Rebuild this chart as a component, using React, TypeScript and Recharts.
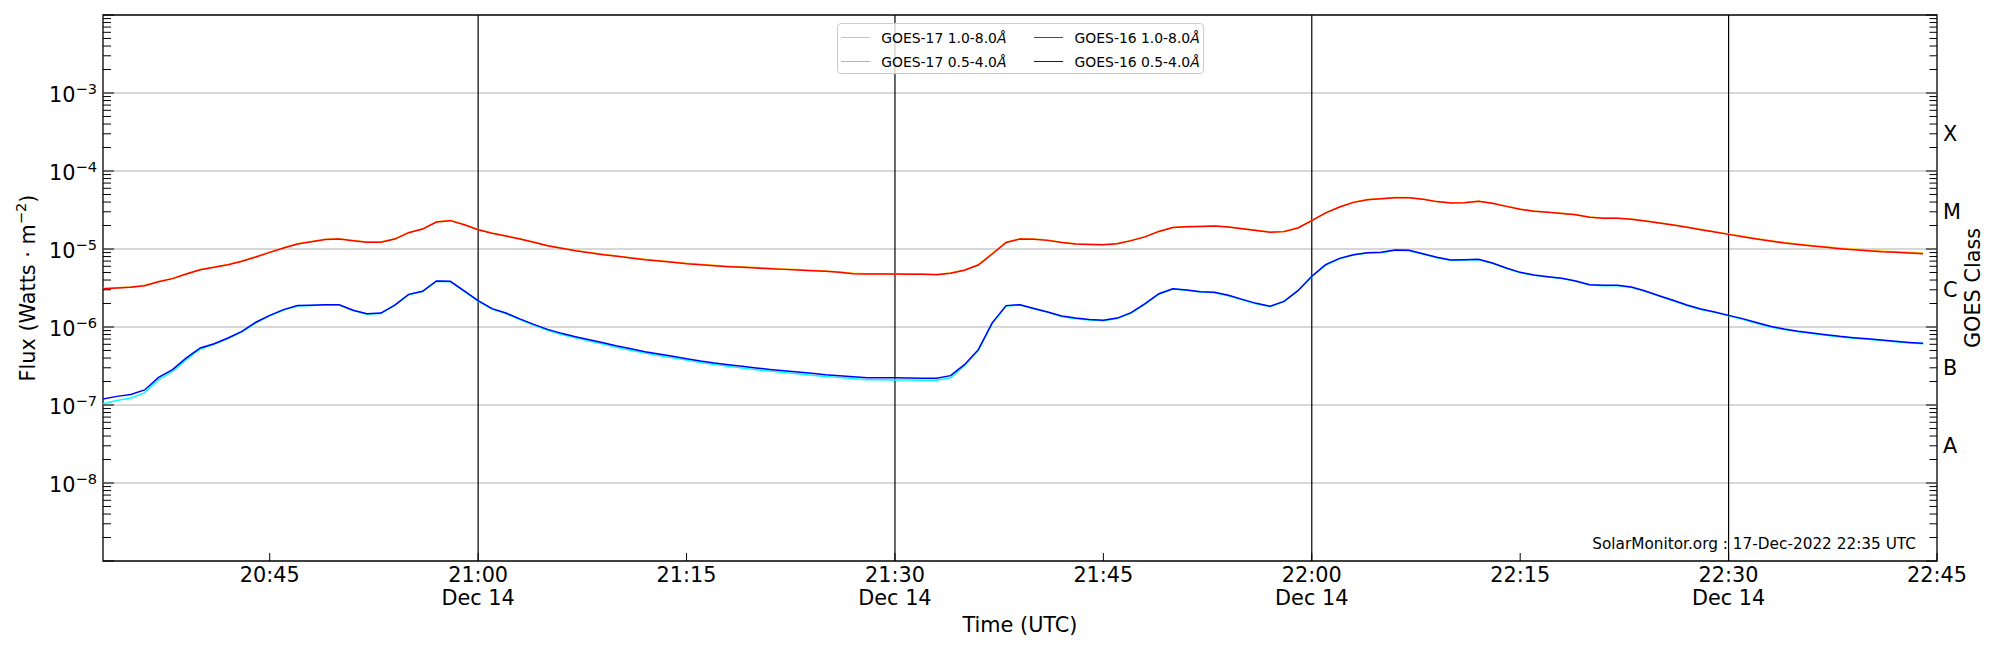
import React from 'react';
import { LineChart, Line, XAxis, YAxis, ReferenceLine, ReferenceArea, Legend } from 'recharts';

const FONT = '"DejaVu Sans", Verdana, sans-serif';

// time axis: minutes since 00:00 UTC, 1-minute cadence from 20:33
const START_MINUTE = 20 * 60 + 33;
const CADENCE_MIN = 1;
const X_DOMAIN = [20 * 60 + 33, 22 * 60 + 45];
const X_TICK_MINUTES = [1245, 1260, 1275, 1290, 1305, 1320, 1335, 1350, 1365];
const X_TICK_LABELS = ['20:45', '21:00', '21:15', '21:30', '21:45', '22:00', '22:15', '22:30', '22:45'];
const X_TICK_DATES = ['', 'Dec 14', '', 'Dec 14', '', 'Dec 14', '', 'Dec 14', ''];
const DAY_LINES = [1260, 1290, 1320, 1350];

const Y_DOMAIN = [1e-9, 1e-2];
const Y_TICK_EXPONENTS = [-8, -7, -6, -5, -4, -3];
const GRID_FLUX = [1e-8, 1e-7, 1e-6, 1e-5, 1e-4, 1e-3];
const CLASS_LABELS = ['A', 'B', 'C', 'M', 'X'];
const CLASS_FLUX = [3.1623e-8, 3.1623e-7, 3.1623e-6, 3.1623e-5, 3.1623e-4];

const GOES17_LONG = [
  3.12e-6, 3.18e-6, 3.25e-6, 3.42e-6, 3.84e-6, 4.20e-6, 4.82e-6, 5.47e-6, 5.86e-6, 6.35e-6,
  7.00e-6, 7.95e-6, 9.12e-6, 1.04e-5, 1.17e-5, 1.25e-5, 1.33e-5, 1.35e-5, 1.29e-5, 1.23e-5,
  1.23e-5, 1.35e-5, 1.63e-5, 1.81e-5, 2.24e-5, 2.33e-5, 2.07e-5, 1.78e-5, 1.60e-5, 1.48e-5,
  1.35e-5, 1.23e-5, 1.11e-5, 1.03e-5, 9.60e-6, 9.05e-6, 8.54e-6, 8.13e-6, 7.75e-6, 7.38e-6,
  7.10e-6, 6.83e-6, 6.57e-6, 6.38e-6, 6.19e-6, 6.02e-6, 5.90e-6, 5.78e-6, 5.68e-6, 5.56e-6,
  5.45e-6, 5.34e-6, 5.24e-6, 5.09e-6, 4.89e-6, 4.83e-6, 4.83e-6, 4.83e-6, 4.78e-6, 4.78e-6,
  4.73e-6, 4.93e-6, 5.38e-6, 6.29e-6, 8.71e-6, 1.22e-5, 1.35e-5, 1.34e-5, 1.30e-5, 1.22e-5,
  1.17e-5, 1.15e-5, 1.14e-5, 1.18e-5, 1.29e-5, 1.44e-5, 1.69e-5, 1.89e-5, 1.94e-5, 1.96e-5,
  1.98e-5, 1.92e-5, 1.83e-5, 1.74e-5, 1.65e-5, 1.68e-5, 1.87e-5, 2.32e-5, 2.91e-5, 3.47e-5,
  3.98e-5, 4.31e-5, 4.44e-5, 4.57e-5, 4.57e-5, 4.36e-5, 4.07e-5, 3.91e-5, 3.95e-5, 4.10e-5,
  3.87e-5, 3.54e-5, 3.25e-5, 3.06e-5, 2.97e-5, 2.88e-5, 2.77e-5, 2.57e-5, 2.49e-5, 2.49e-5,
  2.42e-5, 2.31e-5, 2.17e-5, 2.05e-5, 1.92e-5, 1.79e-5, 1.67e-5, 1.56e-5, 1.46e-5, 1.36e-5,
  1.29e-5, 1.21e-5, 1.16e-5, 1.11e-5, 1.07e-5, 1.03e-5, 9.98e-6, 9.70e-6, 9.42e-6, 9.24e-6,
  9.07e-6, 8.89e-6,
];

const GOES17_SHORT = [
  1.04e-7, 1.14e-7, 1.23e-7, 1.43e-7, 2.11e-7, 2.70e-7, 3.81e-7, 5.22e-7, 6.00e-7, 7.10e-7,
  8.65e-7, 1.13e-6, 1.39e-6, 1.65e-6, 1.86e-6, 1.88e-6, 1.91e-6, 1.91e-6, 1.62e-6, 1.46e-6,
  1.49e-6, 1.89e-6, 2.59e-6, 2.84e-6, 3.85e-6, 3.81e-6, 2.87e-6, 2.15e-6, 1.70e-6, 1.49e-6,
  1.25e-6, 1.06e-6, 9.10e-7, 8.00e-7, 7.25e-7, 6.62e-7, 6.05e-7, 5.47e-7, 5.05e-7, 4.63e-7,
  4.32e-7, 4.03e-7, 3.76e-7, 3.50e-7, 3.30e-7, 3.14e-7, 2.98e-7, 2.84e-7, 2.72e-7, 2.61e-7,
  2.51e-7, 2.41e-7, 2.32e-7, 2.25e-7, 2.18e-7, 2.11e-7, 2.11e-7, 2.09e-7, 2.09e-7, 2.07e-7,
  2.07e-7, 2.24e-7, 3.19e-7, 4.97e-7, 1.11e-6, 1.86e-6, 1.91e-6, 1.71e-6, 1.54e-6, 1.36e-6,
  1.28e-6, 1.23e-6, 1.20e-6, 1.28e-6, 1.51e-6, 1.97e-6, 2.64e-6, 3.07e-6, 2.95e-6, 2.81e-6,
  2.75e-6, 2.52e-6, 2.23e-6, 1.99e-6, 1.82e-6, 2.11e-6, 2.89e-6, 4.42e-6, 6.24e-6, 7.51e-6,
  8.38e-6, 8.88e-6, 8.97e-6, 9.61e-6, 9.51e-6, 8.62e-6, 7.74e-6, 7.16e-6, 7.23e-6, 7.30e-6,
  6.55e-6, 5.64e-6, 4.97e-6, 4.59e-6, 4.38e-6, 4.17e-6, 3.85e-6, 3.45e-6, 3.38e-6, 3.38e-6,
  3.22e-6, 2.87e-6, 2.49e-6, 2.17e-6, 1.89e-6, 1.68e-6, 1.54e-6, 1.39e-6, 1.26e-6, 1.12e-6,
  1.00e-6, 9.28e-7, 8.67e-7, 8.25e-7, 7.85e-7, 7.47e-7, 7.18e-7, 6.97e-7, 6.70e-7, 6.45e-7,
  6.25e-7, 6.08e-7,
];

const GOES16_LONG = [
  3.10e-6, 3.16e-6, 3.23e-6, 3.39e-6, 3.81e-6, 4.17e-6, 4.78e-6, 5.43e-6, 5.82e-6, 6.30e-6,
  6.95e-6, 7.89e-6, 9.06e-6, 1.03e-5, 1.16e-5, 1.24e-5, 1.32e-5, 1.34e-5, 1.28e-5, 1.22e-5,
  1.22e-5, 1.34e-5, 1.62e-5, 1.80e-5, 2.22e-5, 2.31e-5, 2.05e-5, 1.77e-5, 1.59e-5, 1.47e-5,
  1.34e-5, 1.22e-5, 1.10e-5, 1.02e-5, 9.52e-6, 8.97e-6, 8.46e-6, 8.05e-6, 7.67e-6, 7.30e-6,
  7.02e-6, 6.75e-6, 6.49e-6, 6.30e-6, 6.11e-6, 5.94e-6, 5.82e-6, 5.70e-6, 5.60e-6, 5.48e-6,
  5.38e-6, 5.27e-6, 5.17e-6, 5.02e-6, 4.83e-6, 4.78e-6, 4.78e-6, 4.78e-6, 4.73e-6, 4.73e-6,
  4.68e-6, 4.88e-6, 5.33e-6, 6.23e-6, 8.63e-6, 1.21e-5, 1.34e-5, 1.33e-5, 1.29e-5, 1.21e-5,
  1.16e-5, 1.14e-5, 1.13e-5, 1.17e-5, 1.28e-5, 1.43e-5, 1.68e-5, 1.88e-5, 1.93e-5, 1.95e-5,
  1.97e-5, 1.91e-5, 1.82e-5, 1.73e-5, 1.64e-5, 1.67e-5, 1.86e-5, 2.31e-5, 2.90e-5, 3.45e-5,
  3.96e-5, 4.29e-5, 4.42e-5, 4.55e-5, 4.55e-5, 4.34e-5, 4.05e-5, 3.89e-5, 3.93e-5, 4.08e-5,
  3.85e-5, 3.52e-5, 3.23e-5, 3.04e-5, 2.95e-5, 2.86e-5, 2.75e-5, 2.55e-5, 2.47e-5, 2.47e-5,
  2.40e-5, 2.29e-5, 2.15e-5, 2.03e-5, 1.90e-5, 1.77e-5, 1.65e-5, 1.54e-5, 1.44e-5, 1.34e-5,
  1.27e-5, 1.19e-5, 1.14e-5, 1.09e-5, 1.05e-5, 1.01e-5, 9.80e-6, 9.52e-6, 9.24e-6, 9.06e-6,
  8.89e-6, 8.71e-6,
];

const GOES16_SHORT = [
  1.19e-7, 1.29e-7, 1.36e-7, 1.56e-7, 2.26e-7, 2.84e-7, 4.01e-7, 5.38e-7, 6.11e-7, 7.23e-7,
  8.80e-7, 1.15e-6, 1.41e-6, 1.67e-6, 1.88e-6, 1.90e-6, 1.93e-6, 1.93e-6, 1.64e-6, 1.48e-6,
  1.51e-6, 1.91e-6, 2.62e-6, 2.87e-6, 3.89e-6, 3.85e-6, 2.90e-6, 2.18e-6, 1.72e-6, 1.51e-6,
  1.27e-6, 1.08e-6, 9.33e-7, 8.29e-7, 7.52e-7, 6.88e-7, 6.30e-7, 5.70e-7, 5.27e-7, 4.83e-7,
  4.51e-7, 4.21e-7, 3.93e-7, 3.66e-7, 3.45e-7, 3.29e-7, 3.13e-7, 2.98e-7, 2.86e-7, 2.75e-7,
  2.65e-7, 2.55e-7, 2.45e-7, 2.38e-7, 2.31e-7, 2.24e-7, 2.24e-7, 2.24e-7, 2.22e-7, 2.20e-7,
  2.20e-7, 2.38e-7, 3.29e-7, 5.12e-7, 1.13e-6, 1.88e-6, 1.93e-6, 1.73e-6, 1.56e-6, 1.38e-6,
  1.30e-6, 1.25e-6, 1.22e-6, 1.30e-6, 1.53e-6, 1.99e-6, 2.67e-6, 3.10e-6, 2.98e-6, 2.84e-6,
  2.78e-6, 2.55e-6, 2.26e-6, 2.01e-6, 1.84e-6, 2.13e-6, 2.92e-6, 4.47e-6, 6.30e-6, 7.59e-6,
  8.46e-6, 8.97e-6, 9.06e-6, 9.71e-6, 9.61e-6, 8.71e-6, 7.82e-6, 7.23e-6, 7.30e-6, 7.38e-6,
  6.62e-6, 5.70e-6, 5.02e-6, 4.64e-6, 4.42e-6, 4.21e-6, 3.89e-6, 3.49e-6, 3.42e-6, 3.42e-6,
  3.26e-6, 2.90e-6, 2.52e-6, 2.20e-6, 1.91e-6, 1.70e-6, 1.56e-6, 1.41e-6, 1.28e-6, 1.14e-6,
  1.02e-6, 9.42e-7, 8.80e-7, 8.38e-7, 7.98e-7, 7.59e-7, 7.30e-7, 7.08e-7, 6.81e-7, 6.55e-7,
  6.35e-7, 6.18e-7,
];

const SERIES = [
  { key: 'g17l', name: 'GOES-17 1.0-8.0', color: '#ffd000' },
  { key: 'g17s', name: 'GOES-17 0.5-4.0', color: '#00ffff' },
  { key: 'g16l', name: 'GOES-16 1.0-8.0', color: '#ff0000' },
  { key: 'g16s', name: 'GOES-16 0.5-4.0', color: '#0000ff' },
];

const DATA = GOES16_LONG.map((_, i) => ({
  t: START_MINUTE + i * CADENCE_MIN,
  g17l: GOES17_LONG[i],
  g17s: GOES17_SHORT[i],
  g16l: GOES16_LONG[i],
  g16s: GOES16_SHORT[i],
}));

// log-axis tick positions (1..9 x 10^n)
const LOG_TICKS: number[] = [];
for (let e = -9; e <= -3; e++) {
  for (let k = 1; k <= 9; k++) LOG_TICKS.push(Number((k * Math.pow(10, e)).toPrecision(6)));
}
LOG_TICKS.push(1e-2);
const RIGHT_TICKS = [...LOG_TICKS, ...CLASS_FLUX].sort((a, b) => a - b);

const isDecade = (v: number) => {
  const lg = Math.log10(v);
  return Math.abs(lg - Math.round(lg)) < 1e-6;
};

function XTick(props: any) {
  const { x, y, payload } = props;
  const i = X_TICK_MINUTES.indexOf(payload.value);
  return (
    <g>
      <line x1={x} x2={x} y1={y} y2={y - 8} stroke="#000" strokeWidth={1} />
      <text x={x} y={y + 21.3} textAnchor="middle" fontSize={20.8} fontFamily={FONT} fill="#000">
        {X_TICK_LABELS[i]}
      </text>
      {X_TICK_DATES[i] ? (
        <text x={x} y={y + 44} textAnchor="middle" fontSize={20.8} fontFamily={FONT} fill="#000">
          {X_TICK_DATES[i]}
        </text>
      ) : null}
    </g>
  );
}

function LeftTick(props: any) {
  const { x, y, payload } = props;
  const v = payload.value;
  const dec = isDecade(v);
  const idx = dec ? Y_TICK_EXPONENTS.indexOf(Math.round(Math.log10(v))) : -1;
  return (
    <g>
      <line x1={x} x2={x + (dec ? 11 : 8)} y1={y} y2={y} stroke="#000" strokeWidth={1} />
      {idx >= 0 ? (
        <text x={x - 6} y={y + 9} textAnchor="end" fontSize={20.8} fontFamily={FONT} fill="#000">
          10
          <tspan dy={-8} fontSize={14.6}>{'\u2212' + Math.abs(Y_TICK_EXPONENTS[idx])}</tspan>
        </text>
      ) : null}
    </g>
  );
}

function RightTick(props: any) {
  const { x, y, payload } = props;
  const v = payload.value;
  const ci = CLASS_FLUX.findIndex((c) => Math.abs(Math.log10(c) - Math.log10(v)) < 1e-4);
  if (ci >= 0) {
    return (
      <text x={x + 6} y={y + 9.5} textAnchor="start" fontSize={20.8} fontFamily={FONT} fill="#000">
        {CLASS_LABELS[ci]}
      </text>
    );
  }
  const dec = isDecade(v);
  return <line x1={x} x2={x - (dec ? 11 : 7.5)} y1={y} y2={y} stroke="#000" strokeWidth={1} />;
}

function XTitle(props: any) {
  const vb = props.viewBox || { x: 103, y: 561, width: 1834, height: 89 };
  return (
    <text x={vb.x + vb.width / 2} y={vb.y + 71} textAnchor="middle" fontSize={20.8} fontFamily={FONT} fill="#000">
      Time (UTC)
    </text>
  );
}

function YTitle(props: any) {
  const vb = props.viewBox || { x: 0, y: 15, width: 103, height: 546 };
  const cx = vb.x + 28;
  const cy = vb.y + vb.height / 2;
  return (
    <text
      x={cx}
      y={cy}
      transform={`rotate(-90, ${cx}, ${cy})`}
      textAnchor="middle"
      dominantBaseline="central"
      fontSize={20.8}
      fontFamily={FONT}
      fill="#000"
    >
      Flux (Watts · m
      <tspan dy={-8} fontSize={14.6}>{'\u22122'}</tspan>
      <tspan dy={8}>)</tspan>
    </text>
  );
}

function RightTitle(props: any) {
  const vb = props.viewBox || { x: 1937, y: 15, width: 63, height: 546 };
  const cx = vb.x + 35.5;
  const cy = vb.y + vb.height / 2;
  return (
    <text
      x={cx}
      y={cy}
      transform={`rotate(-90, ${cx}, ${cy})`}
      textAnchor="middle"
      dominantBaseline="central"
      fontSize={20.8}
      fontFamily={FONT}
      fill="#000"
    >
      GOES Class
    </text>
  );
}

function Watermark(props: any) {
  const vb = props.viewBox || { x: 103, y: 15, width: 1834, height: 546 };
  return (
    <text x={vb.x + vb.width - 21} y={vb.y + vb.height - 12} textAnchor="end" fontSize={15.3} fontFamily={FONT} fill="#000">
      SolarMonitor.org : 17-Dec-2022 22:35 UTC
    </text>
  );
}

function LegendBox() {
  return (
    <div
      style={{
        position: 'relative',
        width: 367,
        height: 51,
        boxSizing: 'border-box',
        border: '1px solid #cccccc',
        borderRadius: 4,
        background: 'rgba(255,255,255,0.8)',
        fontFamily: FONT,
        fontSize: 13.9,
        color: '#000',
      }}
    >
      {SERIES.map((s, i) => {
        const col = Math.floor(i / 2);
        const row = i % 2;
        const left = 3 + col * 193.3;
        const cy = 13.6 + row * 23.7;
        return (
          <React.Fragment key={s.key}>
            <div style={{ position: 'absolute', left, top: cy - 0.75, width: 29, height: 1.5, background: s.color }} />
            <div style={{ position: 'absolute', left: left + 40.3, top: cy - 7.7, lineHeight: '16px', whiteSpace: 'nowrap' }}>
              {s.name}
              <i>Å</i>
            </div>
          </React.Fragment>
        );
      })}
    </div>
  );
}

export default function App() {
  return (
    <div style={{ position: 'absolute', left: 0, top: 0, width: 2000, height: 650, background: '#fff', fontFamily: FONT }}>
      <LineChart width={2000} height={650} data={DATA} margin={{ top: 15, right: 0, bottom: 0, left: 0 }}>
        <XAxis
          dataKey="t"
          type="number"
          domain={X_DOMAIN}
          ticks={X_TICK_MINUTES}
          interval={0}
          tick={XTick}
          tickLine={false}
          axisLine={false}
          tickSize={0}
          tickMargin={0}
          height={89}
          allowDataOverflow
          label={XTitle}
        />
        <YAxis
          scale="log"
          domain={Y_DOMAIN}
          ticks={LOG_TICKS}
          interval={0}
          tick={LeftTick}
          tickLine={false}
          axisLine={false}
          tickSize={0}
          tickMargin={0}
          width={103}
          allowDataOverflow
          label={YTitle}
        />
        <YAxis
          yAxisId="right"
          orientation="right"
          scale="log"
          domain={Y_DOMAIN}
          ticks={RIGHT_TICKS}
          interval={0}
          tick={RightTick}
          tickLine={false}
          axisLine={false}
          tickSize={0}
          tickMargin={0}
          width={63}
          allowDataOverflow
          label={RightTitle}
        />
        {GRID_FLUX.map((v) => (
          <ReferenceLine key={'g' + v} y={v} stroke="#b0b0b0" strokeWidth={1.1} />
        ))}
        {DAY_LINES.map((v) => (
          <ReferenceLine key={'d' + v} x={v} stroke="#000" strokeWidth={1.2} />
        ))}
        {SERIES.map((s) => (
          <Line
            key={s.key}
            type="linear"
            dataKey={s.key}
            name={s.name}
            stroke={s.color}
            strokeWidth={1.5}
            dot={false}
            activeDot={false}
            isAnimationActive={false}
          />
        ))}
        <ReferenceArea
          x1={X_DOMAIN[0]}
          x2={X_DOMAIN[1]}
          y1={Y_DOMAIN[0]}
          y2={Y_DOMAIN[1]}
          fill="none"
          fillOpacity={0}
          stroke="#000"
          strokeWidth={1.3}
          label={Watermark}
        />
        <Legend
          layout="horizontal"
          verticalAlign="middle"
          align="center"
          content={LegendBox}
          wrapperStyle={{ left: 837, top: 23, width: 367, height: 51 }}
        />
      </LineChart>
    </div>
  );
}
